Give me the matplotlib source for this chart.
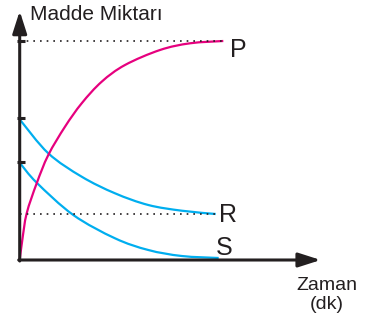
import matplotlib.pyplot as plt
from matplotlib.path import Path
from matplotlib.patches import PathPatch

plt.rcParams['font.family'] = ['Liberation Sans', 'DejaVu Sans']

# values (time and amount in arbitrary units)
p_time = [0, 0.26, 0.7, 1.7, 2.86, 4.53, 6.2, 8.2, 10.53, 14.03, 17.03, 20.36]
p_amount = [0, 2.0, 4.67, 7.67, 10.5, 13.33, 15.67, 17.83, 19.5, 21.0, 21.67, 21.9]

r_time = [0.05, 2.86, 6.2, 9.53, 12.86, 16.2, 19.6]
r_amount = [14.0, 10.67, 8.33, 6.67, 5.5, 4.93, 4.6]

s_time = [0.05, 1.7, 5.36, 9.53, 12.86, 16.2, 19.9]
s_amount = [9.67, 7.73, 4.5, 2.17, 1.0, 0.4, 0.2]

levels = [21.93, 14.17, 9.77]   # y axis tick marks
dotted_p = 21.93
dotted_r = 4.57

dark = '#231f20'
magenta = '#e6007e'
cyan = '#00aeef'


def smooth_path(xs, ys):
    """catmull-rom through the read points, drawn as bezier segments"""
    pts = list(zip(xs, ys))
    verts = [pts[0]]
    codes = [Path.MOVETO]
    for i in range(len(pts) - 1):
        p0 = pts[i - 1] if i > 0 else pts[i]
        p1 = pts[i]
        p2 = pts[i + 1]
        p3 = pts[i + 2] if i + 2 < len(pts) else pts[i + 1]
        c1 = (p1[0] + (p2[0] - p0[0]) / 6, p1[1] + (p2[1] - p0[1]) / 6)
        c2 = (p2[0] - (p3[0] - p1[0]) / 6, p2[1] - (p3[1] - p1[1]) / 6)
        verts += [c1, c2, p2]
        codes += [Path.CURVE4] * 3
    return Path(verts, codes)


fig = plt.figure(figsize=(3.66, 3.29), dpi=100)
ax = fig.add_axes([0, 0, 1, 1])
ax.set_xlim(-1.97, 34.63)
ax.set_ylim(-6.9, 26)
ax.axis('off')

arrow = dict(arrowstyle='-|>,head_length=0.75,head_width=0.24', color=dark, lw=2.2,
             mutation_scale=18, shrinkA=0, shrinkB=0)
ax.annotate('', xy=(0, 24.9), xytext=(0, -0.1), arrowprops=arrow)
ax.annotate('', xy=(30.1, 0), xytext=(-0.1, 0), arrowprops=arrow)

for lv in levels:
    ax.plot([-0.3, 0.5], [lv, lv], color=dark, lw=2.2, solid_capstyle='butt')

ax.plot([0, p_time[-1]], [dotted_p, dotted_p], color=dark, lw=1.2, ls=(0, (1, 3)))
ax.plot([0, r_time[-1]], [dotted_r, dotted_r], color=dark, lw=1.2, ls=(0, (1, 3)))

for xs, ys, col in [(r_time, r_amount, cyan), (s_time, s_amount, cyan),
                    (p_time, p_amount, magenta)]:
    ax.add_patch(PathPatch(smooth_path(xs, ys), facecolor='none', edgecolor=col,
                           lw=1.6, capstyle='butt'))

ax.text(1.0, 24.6, 'Madde Miktarı', fontsize=15, color=dark, va='center', ha='left')
ax.text(21.0, 21.0, 'P', fontsize=18, color=dark, va='center', ha='left')
ax.text(19.9, 4.5, 'R', fontsize=18, color=dark, va='center', ha='left')
ax.text(19.6, 1.2, 'S', fontsize=18, color=dark, va='center', ha='left')
ax.text(30.7, -3.5, 'Zaman\n(dk)', fontsize=14, color=dark, va='center', ha='center',
        linespacing=1.2)

fig.savefig('out.png', dpi=100)
